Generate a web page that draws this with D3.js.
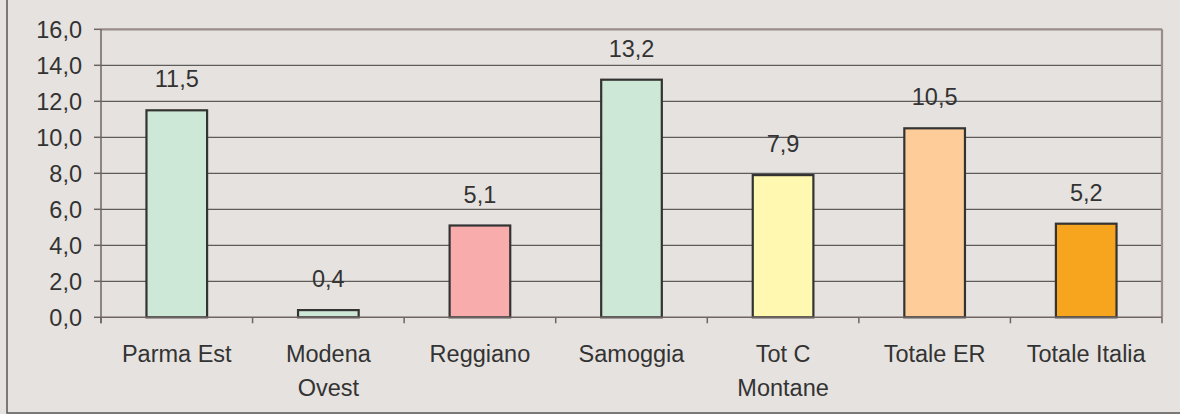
<!DOCTYPE html>
<html>
<head>
<meta charset="utf-8">
<script src="https://cdn.jsdelivr.net/npm/d3@7"></script>
<style>
  body { margin: 0; background: #e6e2df; }
  svg { display: block; font-family: "Liberation Sans", Arial, sans-serif; }
</style>
</head>
<body>
<svg id="chart" width="1180" height="414"></svg>
<script>
var categories = [["Parma Est"], ["Modena", "Ovest"], ["Reggiano"], ["Samoggia"], ["Tot C", "Montane"], ["Totale ER"], ["Totale Italia"]];
var values = [11.5, 0.4, 5.1, 13.2, 7.9, 10.5, 5.2];
var colors = ["#cde8d6", "#cde8d6", "#f8acac", "#cde8d6", "#fff8b0", "#fdcc98", "#f7a41e"];
var yTicks = [0, 2, 4, 6, 8, 10, 12, 14, 16];

function drawChart() {
  var svg = d3.select("#chart");
  var pLeft = 101, pRight = 1162, pTop = 29.3, pBottom = 317.3;
  var fs = 23.5;

  // outer frame
  svg.append("rect").attr("x", 7).attr("y", -2).attr("width", 1180).attr("height", 415)
    .attr("fill", "#e6e2df").attr("stroke", "#555").attr("stroke-width", 1.5);

  var x = d3.scaleBand().domain(d3.range(values.length)).range([pLeft, pRight]).paddingInner(0.6).paddingOuter(0.3);
  var xb = d3.scaleBand().domain(d3.range(values.length)).range([pLeft, pRight]);
  var y = d3.scaleLinear().domain([0, 16]).range([pBottom, pTop]);

  var fmt = d => d.toFixed(1).replace(".", ",");

  // gridlines
  svg.selectAll("line.grid").data(yTicks.slice(1, -1)).enter().append("line")
    .attr("x1", pLeft).attr("x2", pRight).attr("y1", d => y(d)).attr("y2", d => y(d))
    .attr("stroke", "#5e5b5b").attr("stroke-width", 1.3);

  // plot border top/right
  svg.append("line").attr("x1", pLeft).attr("x2", pRight).attr("y1", pTop).attr("y2", pTop)
    .attr("stroke", "#998d8a").attr("stroke-width", 2.2);
  svg.append("line").attr("x1", pRight).attr("x2", pRight).attr("y1", pTop).attr("y2", pBottom)
    .attr("stroke", "#998d8a").attr("stroke-width", 2.2);

  // y axis
  svg.append("line").attr("x1", pLeft).attr("x2", pLeft).attr("y1", pTop).attr("y2", pBottom + 6)
    .attr("stroke", "#6e6461").attr("stroke-width", 1.5);
  svg.selectAll("line.ytick").data(yTicks).enter().append("line")
    .attr("x1", pLeft - 7).attr("x2", pLeft).attr("y1", d => y(d)).attr("y2", d => y(d))
    .attr("stroke", "#6e6461").attr("stroke-width", 1.5);
  svg.selectAll("text.ylab").data(yTicks).enter().append("text")
    .attr("x", 82).attr("y", d => y(d)).attr("dy", "0.36em").attr("text-anchor", "end")
    .attr("font-size", fs).attr("fill", "#333").text(fmt);

  // bars
  svg.selectAll("rect.bar").data(values).enter().append("rect")
    .attr("x", (d, i) => x(i)).attr("width", x.bandwidth())
    .attr("y", d => y(d)).attr("height", d => pBottom - y(d))
    .attr("fill", (d, i) => colors[i]).attr("stroke", "#333").attr("stroke-width", 2.2);

  // x axis
  svg.append("line").attr("x1", pLeft).attr("x2", pRight).attr("y1", pBottom).attr("y2", pBottom)
    .attr("stroke", "#6e6461").attr("stroke-width", 1.5);
  svg.selectAll("line.xtick").data(d3.range(values.length + 1)).enter().append("line")
    .attr("x1", d => pLeft + d * xb.bandwidth()).attr("x2", d => pLeft + d * xb.bandwidth())
    .attr("y1", pBottom).attr("y2", pBottom + 6)
    .attr("stroke", "#6e6461").attr("stroke-width", 1.5);

  // value labels
  svg.selectAll("text.val").data(values).enter().append("text")
    .attr("x", (d, i) => x(i) + x.bandwidth() / 2).attr("y", d => y(d) - 23)
    .attr("text-anchor", "middle").attr("font-size", fs).attr("fill", "#333").text(fmt);

  // category labels
  var cl = svg.selectAll("text.cat").data(categories).enter().append("text")
    .attr("x", (d, i) => xb(i) + xb.bandwidth() / 2).attr("y", 361.5)
    .attr("text-anchor", "middle").attr("font-size", fs).attr("fill", "#333");
  cl.each(function(d, i) {
    d3.select(this).selectAll("tspan").data(d).enter().append("tspan")
      .attr("x", xb(i) + xb.bandwidth() / 2).attr("dy", (t, j) => j ? 34 : 0).text(t => t);
  });
}

drawChart();
</script>
</body>
</html>
